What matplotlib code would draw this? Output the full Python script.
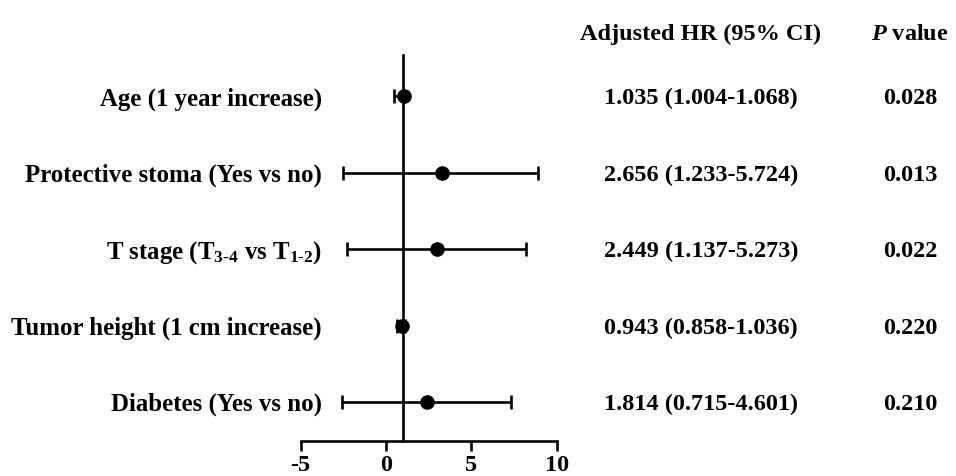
import matplotlib
matplotlib.use("Agg")
import matplotlib.pyplot as plt

plt.rcParams["font.family"] = ["Liberation Serif", "DejaVu Serif"]
plt.rcParams["font.weight"] = "bold"
plt.rcParams["mathtext.fontset"] = "custom"
plt.rcParams["mathtext.rm"] = "Liberation Serif:bold"
plt.rcParams["mathtext.bf"] = "Liberation Serif:bold"
plt.rcParams["mathtext.it"] = "Liberation Serif:italic:bold"

# 변수명 / 점추정 / 오차막대
labels = ["Age (1 year increase)",
          "Protective stoma (Yes vs no)",
          r"T stage (T$_{3\text{-}4}$ vs T$_{1\text{-}2}$)",
          "Tumor height (1 cm increase)",
          "Diabetes (Yes vs no)"]
point = [1.035, 3.26, 2.98, 0.92, 2.38]
lower = [0.45, -2.53, -2.27, 0.65, -2.60]
upper = [1.07, 8.92, 8.22, 1.10, 7.34]
hr_text = ["1.035 (1.004-1.068)", "2.656 (1.233-5.724)", "2.449 (1.137-5.273)",
           "0.943 (0.858-1.036)", "1.814 (0.715-4.601)"]
p_text = ["0.028", "0.013", "0.022", "0.220", "0.210"]
xticks = [-5, 0, 5, 10]

FS = 17.5
FS_LAB = 17.9
fig = plt.figure(figsize=(9.56, 4.76), dpi=100)
ax = fig.add_axes([0.3145, 0.0735, 0.2678, 0.811])

n = len(labels)
ys = list(range(n, 0, -1))
xerr = [[p - lo for p, lo in zip(point, lower)],
        [hi - p for p, hi in zip(point, upper)]]
ax.errorbar(point, ys, xerr=xerr, fmt="o", color="black", ms=9.5,
            elinewidth=1.9, capsize=4.8, capthick=1.9, zorder=3)

ax.set_xlim(-5, 10)
ax.set_ylim(0.49, n + 0.54)
ax.spines["left"].set_position(("data", 1))
ax.spines["left"].set_linewidth(1.9)
ax.spines["bottom"].set_linewidth(1.9)
ax.spines["top"].set_visible(False)
ax.spines["right"].set_visible(False)
ax.set_yticks([])
ax.set_xticks(xticks)
ax.set_xticklabels([str(t) for t in xticks], fontsize=FS, fontweight="bold")
ax.tick_params(axis="x", direction="out", length=7, width=1.9, pad=3)
ax.patch.set_alpha(0)

# 왼쪽 변수명: x=322px 에 오른쪽 정렬
lab_x = 322 / 956
to_fig = fig.transFigure.inverted()
for y, lab in zip(ys, labels):
    yf = to_fig.transform(ax.transData.transform((0, y)))[1]
    fig.text(lab_x, yf, lab, ha="right", va="center_baseline",
             fontsize=FS_LAB, fontweight="bold")

# 오른쪽 표 열
hr_x = 701 / 956
p_x = 910 / 956
fig.text(hr_x, 1 - 32 / 476, "Adjusted HR (95% CI)", ha="center",
         va="center_baseline", fontsize=FS, fontweight="bold")
fig.text(p_x, 1 - 32 / 476, r"$\mathit{P}$ value", ha="center",
         va="center_baseline", fontsize=FS, fontweight="bold")
for y, h, p in zip(ys, hr_text, p_text):
    yf = to_fig.transform(ax.transData.transform((0, y)))[1]
    fig.text(hr_x, yf, h, ha="center", va="center_baseline", fontsize=FS,
             fontweight="bold")
    fig.text(p_x, yf, p, ha="center", va="center_baseline", fontsize=FS,
             fontweight="bold")

fig.savefig("out.png", dpi=100)
plt.close(fig)
